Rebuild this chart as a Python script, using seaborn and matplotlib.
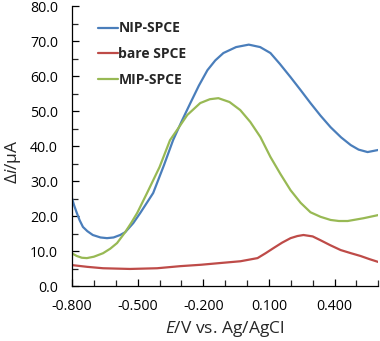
import numpy as np
import pandas as pd
import matplotlib
matplotlib.use("Agg")
import matplotlib.pyplot as plt
import seaborn as sns
from matplotlib.ticker import MultipleLocator, FixedLocator, FormatStrFormatter

# ---- data ----
nip_E = [-0.800, -0.790, -0.778, -0.765, -0.750, -0.730, -0.705, -0.670, -0.640,
         -0.610, -0.580, -0.557, -0.520, -0.488, -0.460, -0.429, -0.380, -0.338,
         -0.298, -0.259, -0.220, -0.181, -0.145, -0.108, -0.050, 0.008, 0.060,
         0.107, 0.150, 0.199, 0.245, 0.290, 0.336, 0.382, 0.430, 0.474, 0.510,
         0.551, 0.600]
nip_i = [25.1, 23.0, 20.9, 18.8, 16.9, 15.7, 14.6, 13.9, 13.7,
         13.9, 14.6, 15.4, 18.0, 20.9, 23.6, 26.6, 34.5, 41.7,
         47.2, 52.3, 57.3, 61.7, 64.5, 66.6, 68.3, 69.0, 68.3,
         66.6, 63.5, 59.7, 56.0, 52.3, 48.7, 45.4, 42.5, 40.3, 39.0,
         38.3, 38.9]

bare_E = [-0.800, -0.730, -0.658, -0.535, -0.411, -0.305, -0.210, -0.121, -0.030,
          0.048, 0.085, 0.122, 0.160, 0.199, 0.230, 0.258, 0.300, 0.336, 0.380,
          0.428, 0.475, 0.519, 0.560, 0.600]
bare_i = [6.0, 5.5, 5.1, 4.9, 5.1, 5.7, 6.1, 6.6, 7.1,
          8.0, 9.4, 10.9, 12.4, 13.7, 14.3, 14.6, 14.2, 13.1, 11.7,
          10.3, 9.4, 8.6, 7.7, 6.9]

mip_E = [-0.800, -0.790, -0.778, -0.755, -0.732, -0.700, -0.658, -0.625, -0.594,
         -0.557, -0.530, -0.502, -0.457, -0.400, -0.352, -0.310, -0.273, -0.214,
         -0.170, -0.131, -0.080, -0.031, 0.015, 0.061, 0.107, 0.153, 0.199,
         0.245, 0.290, 0.336, 0.382, 0.420, 0.460, 0.533, 0.600]
mip_i = [9.4, 9.0, 8.6, 8.1, 8.0, 8.4, 9.4, 10.7, 12.3,
         15.4, 18.0, 20.9, 26.6, 34.0, 41.7, 45.5, 48.9, 52.3,
         53.4, 53.7, 52.6, 50.3, 46.9, 42.6, 36.9, 32.0, 27.4,
         23.8, 21.1, 19.8, 18.9, 18.6, 18.6, 19.4, 20.3]

series_names = ["NIP-SPCE", "bare SPCE", "MIP-SPCE"]
colors = ["#4A7EBB", "#BE4B48", "#98B954"]
x_tick_values = [-0.8, -0.5, -0.2, 0.1, 0.4]

df = pd.concat([
    pd.DataFrame({"E": nip_E, "i": nip_i, "s": series_names[0]}),
    pd.DataFrame({"E": bare_E, "i": bare_i, "s": series_names[1]}),
    pd.DataFrame({"E": mip_E, "i": mip_i, "s": series_names[2]}),
], ignore_index=True)

sns.set_theme(style="white")
plt.rcParams["font.family"] = ["Open Sans", "DejaVu Sans"]
plt.rcParams["mathtext.fontset"] = "custom"
plt.rcParams["mathtext.it"] = "Open Sans:italic"
plt.rcParams["mathtext.rm"] = "Open Sans"

fig = plt.figure(figsize=(3.8, 3.41), dpi=100)
ax = fig.add_axes([0.1895, 0.161, 0.806, 0.821])

sns.lineplot(data=df, x="E", y="i", hue="s", hue_order=series_names,
             palette=dict(zip(series_names, colors)), sort=False,
             linewidth=1.6, ax=ax, legend=True)

ax.set_xlim(-0.8, 0.6)
ax.set_ylim(0, 80)
ax.xaxis.set_major_locator(FixedLocator(x_tick_values))
ax.xaxis.set_minor_locator(MultipleLocator(0.1))
ax.xaxis.set_major_formatter(FormatStrFormatter("%.3f"))
ax.yaxis.set_major_locator(MultipleLocator(10))
ax.yaxis.set_minor_locator(MultipleLocator(5))
ax.yaxis.set_major_formatter(FormatStrFormatter("%.1f"))

ax.tick_params(axis="both", which="major", direction="in", length=5, width=0.9,
               labelsize=10.2, colors="black", left=True, bottom=True)
ax.tick_params(axis="y", which="major", pad=10)
ax.tick_params(axis="x", which="major", pad=9)
ax.tick_params(axis="both", which="minor", direction="in", length=4, width=0.9,
               left=True, bottom=True)
for sp in ["top", "right"]:
    ax.spines[sp].set_visible(False)
for sp in ["left", "bottom"]:
    ax.spines[sp].set_color("black")
    ax.spines[sp].set_linewidth(0.9)

ax.set_xlabel(r"$E$/V vs. Ag/AgCl", fontsize=12.5)
ax.set_ylabel(r"Δ$i$/μA", fontsize=12.5)
ax.xaxis.set_label_coords(0.5, -0.152)
ax.yaxis.set_label_coords(-0.193, 0.443)
ax.xaxis.label.set_verticalalignment("center")
ax.yaxis.label.set_verticalalignment("center")

leg = ax.legend(loc="upper left", bbox_to_anchor=(0.045, 0.99), frameon=False,
                handlelength=1.4, handletextpad=0.05, labelspacing=0.85,
                prop={"weight": "bold", "size": 10})

fig.savefig("out.png", dpi=100)
